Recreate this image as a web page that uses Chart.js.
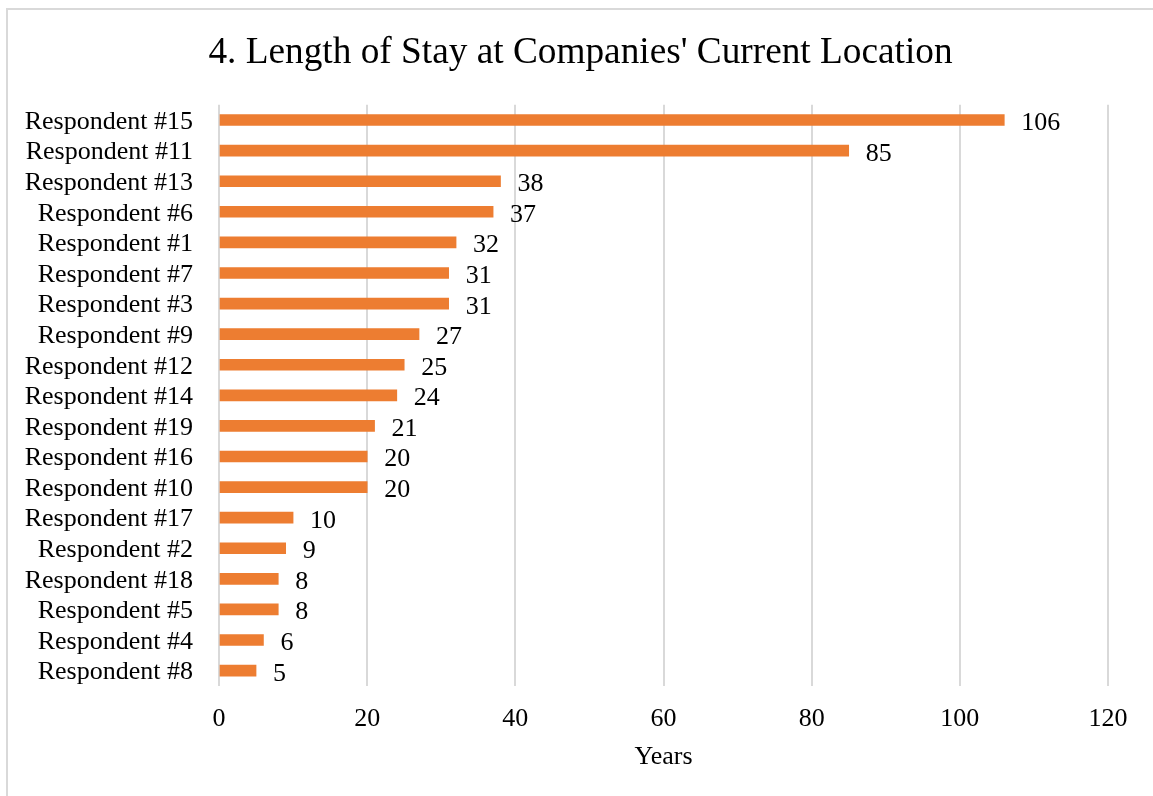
<!DOCTYPE html>
<html>
<head>
<meta charset="utf-8">
<title>Length of Stay at Companies' Current Location</title>
<script src="https://cdn.jsdelivr.net/npm/chart.js@4/dist/chart.umd.min.js"></script>
<style>
  html, body { margin: 0; padding: 0; background: #ffffff; }
  #wrap { position: relative; width: 1153px; height: 796px; overflow: hidden; }
  #frame {
    position: absolute; left: 6px; top: 8px; width: 1200px; height: 850px;
    border-left: 2px solid #d9d9d9; border-top: 2px solid #d9d9d9;
    box-sizing: border-box;
  }
  canvas { position: absolute; left: 0; top: 0; }
</style>
</head>
<body>
<div id="wrap">
  <div id="frame"></div>
  <canvas id="chart" width="1153" height="796"></canvas>
</div>
<script>
// Respondents, listed from longest to shortest stay
const respondents = [
  'Respondent #15', 'Respondent #11', 'Respondent #13', 'Respondent #6',
  'Respondent #1', 'Respondent #7', 'Respondent #3', 'Respondent #9',
  'Respondent #12', 'Respondent #14', 'Respondent #19', 'Respondent #16',
  'Respondent #10', 'Respondent #17', 'Respondent #2', 'Respondent #18',
  'Respondent #5', 'Respondent #4', 'Respondent #8'
];
// Years at the current location
const yearsAtLocation = [106, 85, 38, 37, 32, 31, 31, 27, 25, 24, 21, 20, 20, 10, 9, 8, 8, 6, 5];
// Value axis range
const axisMin = 0;
const axisMax = 120;
const axisStep = 20;

const chartTitle = "4. Length of Stay at Companies' Current Location";

const SERIF = '"Liberation Serif", "Times New Roman", "DejaVu Serif", serif';
const BAR_COLOR = '#ED7D31';
const GRID_COLOR = '#d9d9d9';

// Chart heading, centred over the whole canvas
const heading = {
  id: 'heading',
  afterDraw(chart) {
    const ctx = chart.ctx;
    ctx.save();
    ctx.font = '37.3px ' + SERIF;
    ctx.fillStyle = '#000000';
    ctx.textAlign = 'center';
    ctx.textBaseline = 'alphabetic';
    ctx.fillText(chartTitle, 580.5, 63);
    ctx.restore();
  }
};

// Writes each bar's value just past its end
const valueLabels = {
  id: 'valueLabels',
  afterDatasetsDraw(chart) {
    const ctx = chart.ctx;
    const meta = chart.getDatasetMeta(0);
    const values = chart.data.datasets[0].data;
    ctx.save();
    ctx.font = '26px ' + SERIF;
    ctx.fillStyle = '#000000';
    ctx.textAlign = 'left';
    ctx.textBaseline = 'alphabetic';
    meta.data.forEach((bar, i) => {
      ctx.fillText(String(values[i]), bar.x + 17, bar.y + 10);
    });
    ctx.restore();
  }
};

new Chart(document.getElementById('chart'), {
  type: 'bar',
  data: {
    labels: respondents,
    datasets: [{
      data: yearsAtLocation,
      backgroundColor: BAR_COLOR,
      borderWidth: 0,
      barThickness: 11
    }]
  },
  plugins: [valueLabels, heading],
  options: {
    indexAxis: 'y',
    responsive: false,
    animation: false,
    layout: { padding: { left: 0, right: 45, top: 104.75, bottom: 23.25 } },
    plugins: {
      legend: { display: false },
      tooltip: { enabled: false },
      title: { display: false }
    },
    scales: {
      x: {
        min: axisMin,
        max: axisMax,
        grid: { color: GRID_COLOR, lineWidth: 2, drawTicks: false },
        border: { display: false },
        ticks: {
          stepSize: axisStep,
          padding: 17.5,
          color: '#000000',
          font: { family: SERIF, size: 26, lineHeight: 1.2 }
        },
        title: {
          display: true,
          text: 'Years',
          color: '#000000',
          font: { family: SERIF, size: 26, lineHeight: 1.2 },
          padding: { top: -10.5, bottom: 0 }
        }
      },
      y: {
        grid: { display: false, drawTicks: false },
        border: { display: false },
        ticks: {
          padding: 26,
          labelOffset: 2,
          color: '#000000',
          autoSkip: false,
          font: { family: SERIF, size: 26, lineHeight: 1.2 }
        },
        afterFit(scale) { scale.width = 219; }
      }
    }
  }
});
</script>
</body>
</html>
